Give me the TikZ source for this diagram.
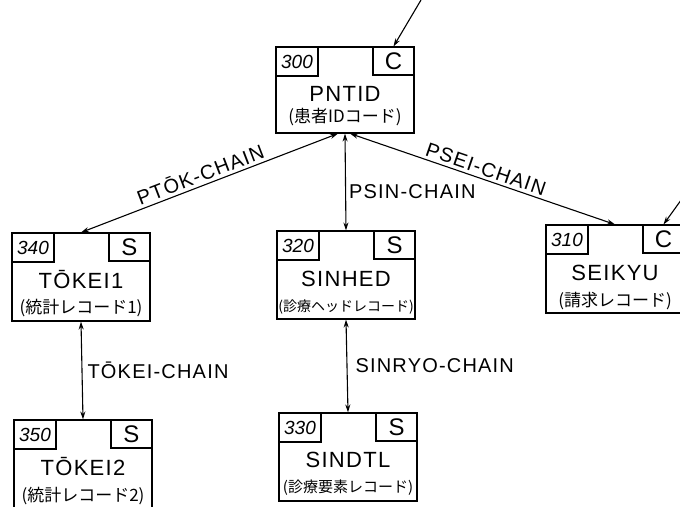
\documentclass[tikz,border=0pt]{standalone}
\usepackage{fontspec}
\setmainfont{Liberation Sans}
\newfontfamily\jpfont{Noto Sans CJK JP}
\newfontfamily\widefont[LetterSpace=6]{Liberation Sans}
\usetikzlibrary{arrows.meta}

\begin{document}
\begin{tikzpicture}[x=1pt, y=-1pt, line width=1.1pt,
  record/.style={draw, rectangle, minimum width=138pt, minimum height=88pt, inner sep=0pt},
  numbox/.style={draw, rectangle, minimum width=42pt, minimum height=29pt, inner sep=0pt, font=\fontsize{19}{19}\selectfont\itshape},
  typebox/.style={draw, rectangle, minimum width=41pt, minimum height=28pt, inner sep=0pt, font=\fontsize{24}{24}\selectfont},
  rectitle/.style={anchor=base, inner sep=0pt, font=\widefont\fontsize{22}{22}\selectfont},
  recnote/.style={anchor=base, inner sep=0pt, font=\jpfont\fontsize{17}{17}\selectfont},
  chain/.style={{Stealth[length=8pt, width=5pt]}-{Stealth[length=8pt, width=5pt]}},
  feed/.style={-{Stealth[length=8pt, width=5pt]}},
  chainlabel/.style={font=\widefont\fontsize{20}{20}\selectfont, inner sep=3pt}]
\useasboundingbox (0,0) rectangle (680,506);

% records
\node[record, minimum height=86pt] (pntid) at (345,90) {};
\node[numbox, anchor=north west] (pntidnum) at (pntid.north west) {300};
\node[typebox, anchor=north east] (pntidtype) at (pntid.north east) {C};
\node[rectitle] (pntidtitle) at ([yshift=-55pt]pntid.north) {PNTID};
\node[recnote] (pntidnote) at ([yshift=-76pt]pntid.north) {(患者IDコード)};

\node[record] (tokei1) at (81,277) {};
\node[numbox, anchor=north west] (tokei1num) at (tokei1.north west) {340};
\node[typebox, anchor=north east] (tokei1type) at (tokei1.north east) {S};
\node[rectitle] (tokei1title) at ([yshift=-56pt]tokei1.north) {TŌKEI1};
\node[recnote] (tokei1note) at ([yshift=-81pt]tokei1.north) {(統計レコード1)};

\node[record] (sinhed) at (346,275) {};
\node[numbox, anchor=north west] (sinhednum) at (sinhed.north west) {320};
\node[typebox, anchor=north east] (sinhedtype) at (sinhed.north east) {S};
\node[rectitle] (sinhedtitle) at ([yshift=-56pt]sinhed.north) {SINHED};
\node[recnote, font=\jpfont\fontsize{14}{14}\selectfont] (sinhednote) at ([yshift=-81pt]sinhed.north) {(診療ヘッドレコード)};

\node[record] (seikyu) at (615,269) {};
\node[numbox, anchor=north west] (seikyunum) at (seikyu.north west) {310};
\node[typebox, anchor=north east] (seikyutype) at (seikyu.north east) {C};
\node[rectitle] (seikyutitle) at ([yshift=-56pt]seikyu.north) {SEIKYU};
\node[recnote] (seikyunote) at ([yshift=-82pt]seikyu.north) {(請求レコード)};

\node[record] (tokei2) at (83,464) {};
\node[numbox, anchor=north west] (tokei2num) at (tokei2.north west) {350};
\node[typebox, anchor=north east] (tokei2type) at (tokei2.north east) {S};
\node[rectitle] (tokei2title) at ([yshift=-56pt]tokei2.north) {TŌKEI2};
\node[recnote] (tokei2note) at ([yshift=-82pt]tokei2.north) {(統計レコード2)};

\node[record] (sindtl) at (348,457) {};
\node[numbox, anchor=north west] (sindtlnum) at (sindtl.north west) {330};
\node[typebox, anchor=north east] (sindtltype) at (sindtl.north east) {S};
\node[rectitle] (sindtltitle) at ([yshift=-55pt]sindtl.north) {SINDTL};
\node[recnote, font=\jpfont\fontsize{15}{15}\selectfont] (sindtlnote) at ([yshift=-80pt]sindtl.north) {(診療要素レコード)};

% incoming pointers
\coordinate (pntidin) at (421,0);
\coordinate (seikyuin) at (684,196);
\draw[feed] (pntidin) -- (pntidtype.north);
\draw[feed] (seikyuin) -- (seikyutype.north);

% chains
\draw[chain] (tokei1.north) -- ([xshift=-7pt]pntid.south) node[pos=0.48, sloped, above, chainlabel] {PTŌK-CHAIN};
\draw[chain] (pntid.south) -- (sinhed.north) node[pos=0.6, right, chainlabel] {PSIN-CHAIN};
\draw[chain] ([xshift=5pt]pntid.south) -- (seikyu.north) node[midway, sloped, above, chainlabel] {PSEI-CHAIN};
\draw[chain] (tokei1.south) -- (tokei2.north) node[midway, right, chainlabel, xshift=2pt] {TŌKEI-CHAIN};
\draw[chain] (sinhed.south) -- (sindtl.north) node[midway, right, chainlabel, xshift=5pt] {SINRYO-CHAIN};
\end{tikzpicture}
\end{document}
